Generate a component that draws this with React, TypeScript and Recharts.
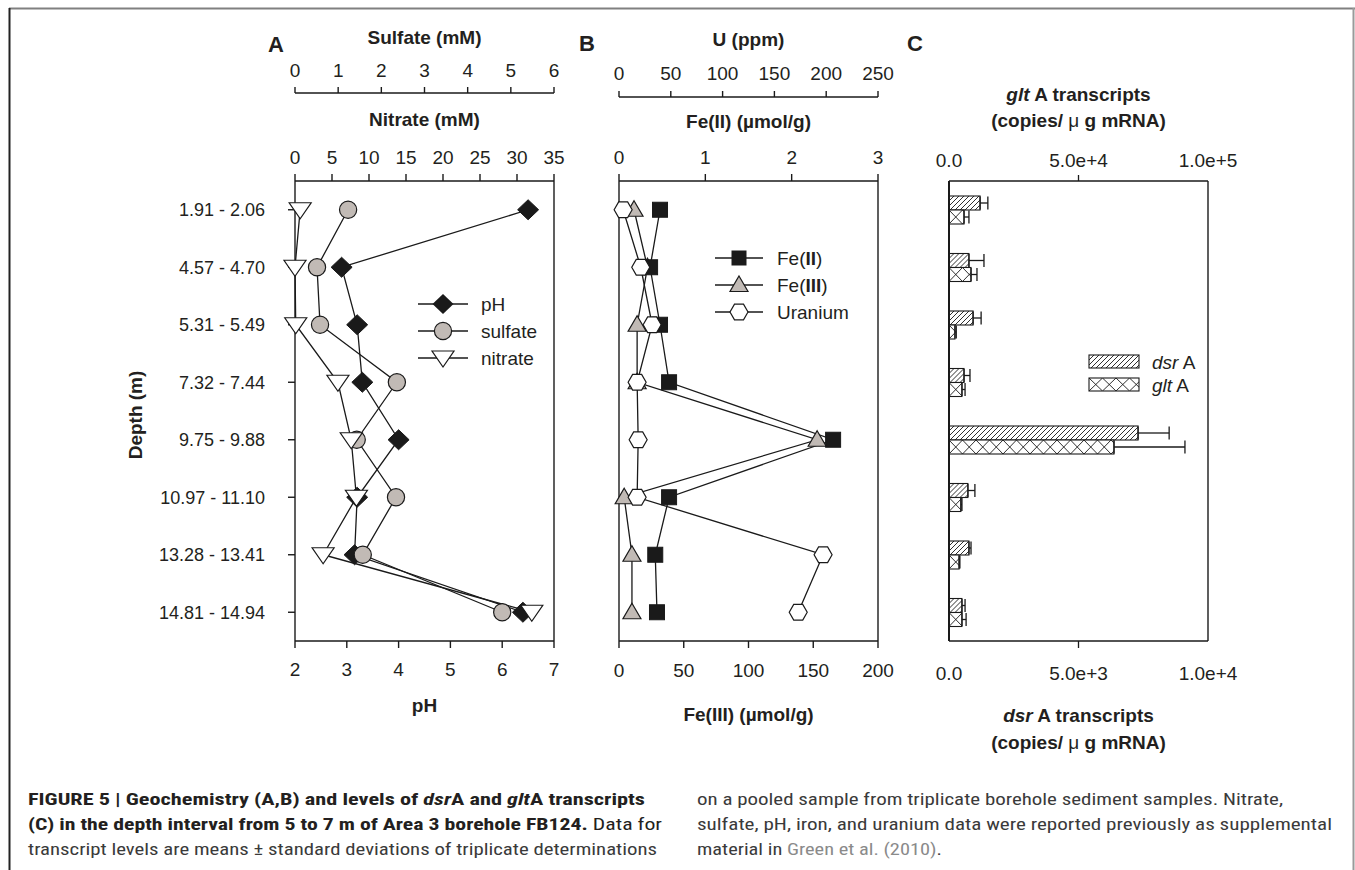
import React from 'react';
import { LineChart, Line, XAxis, YAxis, BarChart, Bar, ErrorBar } from 'recharts';

// ---------- data ----------
const depthLabels = ['1.91 - 2.06', '4.57 - 4.70', '5.31 - 5.49', '7.32 - 7.44', '9.75 - 9.88', '10.97 - 11.10', '13.28 - 13.41', '14.81 - 14.94'];

const phValues = [6.5, 2.9, 3.2, 3.3, 4.0, 3.2, 3.15, 6.4];
const sulfateMM = [1.23, 0.51, 0.58, 2.36, 1.43, 2.34, 1.57, 4.8];
const nitrateMM = [0.7, 0, 0.1, 5.8, 7.6, 8.3, 3.8, 32];

const fe2Values = [0.475, 0.36, 0.475, 0.58, 2.48, 0.58, 0.42, 0.44];
const fe3Values = [11.6, 22, 14, 14, 153, 4, 10, 10];
const uraniumPpm = [4, 21, 32, 17.5, 18.5, 17.5, 197, 173];

const dsrAMean = [1200, 770, 930, 580, 7300, 730, 770, 500];
const dsrASd = [300, 580, 310, 230, 1200, 270, 80, 120];
const gltAMean = [5800, 8500, 2300, 5000, 63700, 4600, 3900, 5000];
const gltASd = [1900, 2300, 500, 1200, 27400, 400, 300, 1600];

const sulfateTicks = [0, 1, 2, 3, 4, 5, 6];
const nitrateTicks = [0, 5, 10, 15, 20, 25, 30, 35];
const phTicks = [2, 3, 4, 5, 6, 7];
const uTicks = [0, 50, 100, 150, 200, 250];
const fe2Ticks = [0, 1, 2, 3];
const fe3Ticks = [0, 50, 100, 150, 200];
const gltTicks = [0, 50000, 100000];
const dsrTicks = [0, 5000, 10000];

const dataA = depthLabels.map((depth, i) => ({ depth, ph: phValues[i], sulfate: sulfateMM[i], nitrate: nitrateMM[i] }));
const dataB = depthLabels.map((depth, i) => ({ depth, fe2: fe2Values[i], fe3: fe3Values[i], u: uraniumPpm[i] }));
const dataC = depthLabels.map((depth, i) => ({
  depth,
  dsr: dsrAMean[i],
  dsrErr: [0, dsrASd[i]],
  glt: gltAMean[i],
  gltErr: [0, gltASd[i]],
}));

// ---------- styles ----------
const FONT = '"Liberation Sans", Arial, Helvetica, sans-serif';
const NARROW = '"Liberation Sans Narrow", "Roboto Condensed", "DejaVu Sans Condensed", "Liberation Sans", sans-serif';
const INK = '#231f20';
const LINE = '#1a1a1a';
const GRAY_FILL = '#c1bab5';
const AXIS = { stroke: LINE, strokeWidth: 1.4 };
const TICK = { fontSize: 19, fill: INK, fontFamily: FONT };
const CAT_PAD = { top: 28.75, bottom: 28.75 };

// ---------- markers ----------
const diamondDot = (p: any) => {
  const { cx, cy, index } = p;
  if (cx == null || cy == null) return <g key={`dia-${index}`} />;
  return <path key={`dia-${index}`} d={`M${cx},${cy - 10}L${cx + 10.5},${cy}L${cx},${cy + 10}L${cx - 10.5},${cy}Z`} fill={LINE} stroke={LINE} strokeWidth={1} />;
};
const circleDot = (p: any) => {
  const { cx, cy, index } = p;
  if (cx == null || cy == null) return <g key={`cir-${index}`} />;
  return <circle key={`cir-${index}`} cx={cx} cy={cy} r={8.6} fill={GRAY_FILL} stroke={LINE} strokeWidth={1.2} />;
};
const downTriPath = (cx: number, cy: number) => `M${cx - 11},${cy - 7}L${cx + 11},${cy - 7}L${cx},${cy + 9}Z`;
const downTriDot = (p: any) => {
  const { cx, cy, index } = p;
  if (cx == null || cy == null) return <g key={`tri-${index}`} />;
  return <path key={`tri-${index}`} d={downTriPath(cx, cy)} fill="#fff" stroke={LINE} strokeWidth={1.2} />;
};
const squareDot = (p: any) => {
  const { cx, cy, index } = p;
  if (cx == null || cy == null) return <g key={`sq-${index}`} />;
  return <rect key={`sq-${index}`} x={cx - 7.5} y={cy - 7.5} width={15} height={15} fill={LINE} stroke={LINE} strokeWidth={1} />;
};
const upTriPath = (cx: number, cy: number) => `M${cx},${cy - 9}L${cx + 9},${cy + 6.5}L${cx - 9},${cy + 6.5}Z`;
const upTriDot = (p: any) => {
  const { cx, cy, index } = p;
  if (cx == null || cy == null) return <g key={`ut-${index}`} />;
  return <path key={`ut-${index}`} d={upTriPath(cx, cy)} fill={GRAY_FILL} stroke={LINE} strokeWidth={1.2} />;
};
const hexPath = (cx: number, cy: number) => {
  const r = 9;
  const pts: string[] = [];
  for (let k = 0; k < 6; k++) {
    const a = (Math.PI / 3) * k;
    pts.push(`${cx + r * Math.cos(a)},${cy + r * Math.sin(a)}`);
  }
  return `M${pts.join('L')}Z`;
};
const hexDot = (p: any) => {
  const { cx, cy, index } = p;
  if (cx == null || cy == null) return <g key={`hex-${index}`} />;
  return <path key={`hex-${index}`} d={hexPath(cx, cy)} fill="#fff" stroke={LINE} strokeWidth={1.2} />;
};

// ---------- labels ----------
const titleLabel = (render: (cx: number, top: number) => React.ReactNode) => (props: any) => {
  const vb = props && props.viewBox;
  if (!vb) return null;
  return <g>{render(vb.x + vb.width / 2, vb.y)}</g>;
};
const boldText = (cx: number, y: number, content: React.ReactNode) => (
  <text x={cx} y={y} textAnchor="middle" dominantBaseline="central" fontSize={19} fontWeight="bold" fill={INK} fontFamily={FONT}>
    {content}
  </text>
);
const depthLabel = (props: any) => {
  const vb = props && props.viewBox;
  if (!vb) return null;
  const cx = vb.x + 15;
  const cy = vb.y + vb.height / 2 + 4;
  return (
    <text x={cx} y={cy} transform={`rotate(-90 ${cx} ${cy})`} textAnchor="middle" dominantBaseline="central" fontSize={19} fontWeight="bold" fill={INK} fontFamily={FONT}>
      Depth (m)
    </text>
  );
};
const copiesLine = (cx: number, y: number) => (
  <text x={cx} y={y} textAnchor="middle" dominantBaseline="central" fontSize={19} fontWeight="bold" fill={INK} fontFamily={FONT}>
    (copies/ <tspan fontWeight="normal">μ</tspan> g mRNA)
  </text>
);

// ---------- hatched bars ----------
const hatchPath = (kind: string, x: number, y: number, width: number, height: number) => {
  let d = '';
  if (kind === 'diag') {
    const step = 5;
    for (let t = -height; t < width + step; t += step) d += `M${x + t},${y + height}L${x + t + height},${y}`;
  } else {
    const w = 13.5;
    for (let t = 0; t < width + w; t += w) d += `M${x + t},${y}L${x + t + w},${y + height}M${x + t + w},${y}L${x + t},${y + height}`;
  }
  return d;
};
const hatchBar = (kind: string) => (props: any) => {
  const { x, y, width, height, index } = props;
  if (!width || width <= 0) return <g />;
  const id = `clip-${kind}-${index}`;
  return (
    <g>
      <defs>
        <clipPath id={id}>
          <rect x={x} y={y} width={width} height={height} />
        </clipPath>
      </defs>
      <rect x={x} y={y} width={width} height={height} fill="#fff" />
      <path d={hatchPath(kind, x, y, width, height)} stroke={LINE} strokeWidth={0.9} fill="none" clipPath={`url(#${id})`} />
      <rect x={x} y={y} width={width} height={height} fill="none" stroke={LINE} strokeWidth={1.1} />
    </g>
  );
};

const fmtSci = (v: number) => (v === 0 ? '0.0' : v.toExponential(1));
// panel C: chart-local axis line positions (plot top 161, plot bottom 621)
const CTickTop = (props: any) => {
  const { x, payload } = props;
  const v = payload.value;
  return (
    <g>
      {v === gltTicks[1] && <line x1={x} x2={x} y1={161} y2={155} stroke={LINE} strokeWidth={1.3} />}
      <text x={x} y={147} textAnchor="middle" fontSize={19} fill={INK} fontFamily={FONT}>{fmtSci(v)}</text>
    </g>
  );
};
const CTickBottom = (props: any) => {
  const { x, payload } = props;
  const v = payload.value;
  return (
    <g>
      {v === dsrTicks[1] && <line x1={x} x2={x} y1={621} y2={628} stroke={LINE} strokeWidth={1.3} />}
      <text x={x} y={660} textAnchor="middle" fontSize={19} fill={INK} fontFamily={FONT}>{fmtSci(v)}</text>
    </g>
  );
};

// ---------- panels ----------
function PanelA() {
  return (
    <div style={{ position: 'absolute', left: 120, top: 20 }}>
      <LineChart layout="vertical" width={460} height={710} data={dataA} margin={{ top: 0, right: 0, bottom: 0, left: 0 }}>
        <XAxis xAxisId="nitrate" type="number" orientation="top" domain={[0, 35]} ticks={nitrateTicks} interval={0} height={88} tickSize={7} tickMargin={10} axisLine={AXIS} tickLine={AXIS} tick={TICK}
          label={titleLabel((cx, top) => boldText(cx, top + 26, 'Nitrate (mM)'))} />
        <XAxis xAxisId="sulfate" type="number" orientation="top" domain={[0, 6]} ticks={sulfateTicks} interval={0} height={73} tickSize={6} tickMargin={10} axisLine={AXIS} tickLine={AXIS} tick={TICK}
          label={titleLabel((cx, top) => boldText(cx, top + 17, 'Sulfate (mM)'))} />
        <XAxis xAxisId="ph" type="number" orientation="bottom" domain={[2, 7]} ticks={phTicks} interval={0} height={89} tickSize={7} tickMargin={15} axisLine={AXIS} tickLine={AXIS} tick={TICK}
          label={titleLabel((cx, top) => boldText(cx, top + 64, 'pH'))} />
        <YAxis yAxisId="depth" type="category" dataKey="depth" width={175} interval={0} padding={CAT_PAD} tickSize={7} tickMargin={23} axisLine={AXIS} tickLine={AXIS} tick={{ ...TICK, fontSize: 18 }} label={depthLabel} />
        <YAxis yAxisId="frame" orientation="right" type="category" dataKey="depth" width={26} padding={CAT_PAD} tick={false} tickLine={false} axisLine={AXIS} />
        <Line xAxisId="ph" yAxisId="depth" dataKey="ph" stroke={LINE} strokeWidth={1.3} dot={diamondDot} activeDot={false} isAnimationActive={false} />
        <Line xAxisId="sulfate" yAxisId="depth" dataKey="sulfate" stroke={LINE} strokeWidth={1.3} dot={circleDot} activeDot={false} isAnimationActive={false} />
        <Line xAxisId="nitrate" yAxisId="depth" dataKey="nitrate" stroke={LINE} strokeWidth={1.3} dot={downTriDot} activeDot={false} isAnimationActive={false} />
      </LineChart>
    </div>
  );
}

function PanelB() {
  return (
    <div style={{ position: 'absolute', left: 580, top: 20 }}>
      <LineChart layout="vertical" width={320} height={710} data={dataB} margin={{ top: 0, right: 0, bottom: 0, left: 0 }}>
        <XAxis xAxisId="fe2" type="number" orientation="top" domain={[0, 3]} ticks={fe2Ticks} interval={0} height={84} tickSize={7} tickMargin={10} axisLine={AXIS} tickLine={AXIS} tick={TICK}
          label={titleLabel((cx, top) => boldText(cx, top + 24, 'Fe(II) (µmol/g)'))} />
        <XAxis xAxisId="u" type="number" orientation="top" domain={[0, 250]} ticks={uTicks} interval={0} height={77} tickSize={6} tickMargin={11} axisLine={AXIS} tickLine={AXIS} tick={TICK}
          label={titleLabel((cx, top) => boldText(cx, top + 19, 'U (ppm)'))} />
        <XAxis xAxisId="fe3" type="number" orientation="bottom" domain={[0, 200]} ticks={fe3Ticks} interval={0} height={89} tickSize={7} tickMargin={16} axisLine={AXIS} tickLine={AXIS} tick={TICK}
          label={titleLabel((cx, top) => boldText(cx, top + 73, 'Fe(III) (µmol/g)'))} />
        <YAxis yAxisId="depth" type="category" dataKey="depth" width={39} interval={0} padding={CAT_PAD} tickSize={6} axisLine={AXIS} tickLine={AXIS} tick={false} />
        <YAxis yAxisId="frame" orientation="right" type="category" dataKey="depth" width={22} padding={CAT_PAD} tick={false} tickLine={false} axisLine={AXIS} />
        <Line xAxisId="fe3" yAxisId="depth" dataKey="fe3" stroke={LINE} strokeWidth={1.3} dot={upTriDot} activeDot={false} isAnimationActive={false} />
        <Line xAxisId="fe2" yAxisId="depth" dataKey="fe2" stroke={LINE} strokeWidth={1.3} dot={squareDot} activeDot={false} isAnimationActive={false} />
        <Line xAxisId="u" yAxisId="depth" dataKey="u" stroke={LINE} strokeWidth={1.3} dot={hexDot} activeDot={false} isAnimationActive={false} />
      </LineChart>
    </div>
  );
}

function PanelC() {
  return (
    <div style={{ position: 'absolute', left: 900, top: 20 }}>
      <BarChart layout="vertical" width={360} height={740} data={dataC} margin={{ top: 0, right: 0, bottom: 0, left: 0 }} barSize={14} barGap={0}>
        <XAxis xAxisId="glt" type="number" orientation="top" domain={[0, 100000]} ticks={gltTicks} interval={0} height={161} tickLine={false} axisLine={AXIS} tick={<CTickTop />}
          label={titleLabel((cx, top) => (
            <>
              <text x={cx} y={top + 74} textAnchor="middle" dominantBaseline="central" fontSize={19} fontWeight="bold" fill={INK} fontFamily={FONT}>
                <tspan fontStyle="italic">glt</tspan> A transcripts
              </text>
              {copiesLine(cx, top + 100)}
            </>
          ))} />
        <XAxis xAxisId="dsr" type="number" orientation="bottom" domain={[0, 10000]} ticks={dsrTicks} interval={0} height={119} tickLine={false} axisLine={AXIS} tick={<CTickBottom />}
          label={titleLabel((cx, top) => (
            <>
              <text x={cx} y={top + 74} textAnchor="middle" dominantBaseline="central" fontSize={19} fontWeight="bold" fill={INK} fontFamily={FONT}>
                <tspan fontStyle="italic">dsr</tspan> A transcripts
              </text>
              {copiesLine(cx, top + 101)}
            </>
          ))} />
        <YAxis yAxisId="depth" type="category" dataKey="depth" width={49} interval={0} tickSize={7} axisLine={{ stroke: LINE, strokeWidth: 2 }} tickLine={AXIS} tick={false} />
        <YAxis yAxisId="frame" orientation="right" type="category" dataKey="depth" width={52} tick={false} tickLine={false} axisLine={AXIS} />
        <Bar xAxisId="dsr" yAxisId="depth" dataKey="dsr" shape={hatchBar('diag')} isAnimationActive={false}>
          <ErrorBar dataKey="dsrErr" direction="x" width={6.5} stroke={LINE} strokeWidth={1.3} />
        </Bar>
        <Bar xAxisId="glt" yAxisId="depth" dataKey="glt" shape={hatchBar('cross')} isAnimationActive={false}>
          <ErrorBar dataKey="gltErr" direction="x" width={6.5} stroke={LINE} strokeWidth={1.3} />
        </Bar>
      </BarChart>
    </div>
  );
}

// ---------- overlay: frame, letters, legends, caption ----------
function Overlay() {
  const legText = { fontSize: 19, fill: INK, fontFamily: FONT, dominantBaseline: 'central' as const };
  const aRows = [304, 331, 358];
  const bRows = [258, 285, 312];
  return (
    <svg width={1355} height={870} style={{ position: 'absolute', left: 0, top: 0, pointerEvents: 'none' }}>
      {/* frame */}
      <line x1={9} x2={1355} y1={8.5} y2={8.5} stroke="#808080" strokeWidth={2} />
      <line x1={9.5} x2={9.5} y1={8} y2={870} stroke="#222" strokeWidth={2} />
      <line x1={1353.5} x2={1353.5} y1={8} y2={870} stroke="#9a9a9a" strokeWidth={2} />

      {/* panel letters */}
      <text x={268} y={52} fontSize={22} fontWeight="bold" fill={INK} fontFamily={FONT}>A</text>
      <text x={579} y={51} fontSize={22} fontWeight="bold" fill={INK} fontFamily={FONT}>B</text>
      <text x={907} y={51} fontSize={22} fontWeight="bold" fill={INK} fontFamily={FONT}>C</text>

      {/* legend A */}
      {aRows.map((y) => <line key={`la-${y}`} x1={418} x2={468} y1={y} y2={y} stroke={LINE} strokeWidth={1.3} />)}
      <path d={`M443,${aRows[0] - 10}L453.5,${aRows[0]}L443,${aRows[0] + 10}L432.5,${aRows[0]}Z`} fill={LINE} />
      <circle cx={443} cy={aRows[1]} r={8.6} fill={GRAY_FILL} stroke={LINE} strokeWidth={1.2} />
      <path d={downTriPath(443, aRows[2])} fill="#fff" stroke={LINE} strokeWidth={1.2} />
      <text x={481} y={aRows[0]} {...legText}>pH</text>
      <text x={481} y={aRows[1]} {...legText}>sulfate</text>
      <text x={481} y={aRows[2]} {...legText}>nitrate</text>

      {/* legend B */}
      {bRows.map((y) => <line key={`lb-${y}`} x1={715} x2={763} y1={y} y2={y} stroke={LINE} strokeWidth={1.3} />)}
      <rect x={731.5} y={bRows[0] - 7.5} width={15} height={15} fill={LINE} />
      <path d={upTriPath(739, bRows[1])} fill={GRAY_FILL} stroke={LINE} strokeWidth={1.2} />
      <path d={hexPath(739, bRows[2])} fill="#fff" stroke={LINE} strokeWidth={1.2} />
      <text x={777} y={bRows[0]} {...legText}>Fe(<tspan fontWeight="bold">II</tspan>)</text>
      <text x={777} y={bRows[1]} {...legText}>Fe(<tspan fontWeight="bold">III</tspan>)</text>
      <text x={777} y={bRows[2]} {...legText}>Uranium</text>

      {/* legend C */}
      <defs>
        <clipPath id="lg-d"><rect x={1089} y={355} width={50} height={13} /></clipPath>
        <clipPath id="lg-c"><rect x={1089} y={378} width={50} height={13} /></clipPath>
      </defs>
      <path d={hatchPath('diag', 1089, 355, 50, 13)} stroke={LINE} strokeWidth={0.9} clipPath="url(#lg-d)" />
      <rect x={1089} y={355} width={50} height={13} fill="none" stroke={LINE} strokeWidth={1.1} />
      <path d={hatchPath('cross', 1089, 378, 50, 13)} stroke={LINE} strokeWidth={0.9} clipPath="url(#lg-c)" />
      <rect x={1089} y={378} width={50} height={13} fill="none" stroke={LINE} strokeWidth={1.1} />
      <text x={1152} y={362} {...legText}><tspan fontStyle="italic">dsr</tspan> A</text>
      <text x={1152} y={385} {...legText}><tspan fontStyle="italic">glt</tspan> A</text>

      {/* caption */}
      <g fontFamily={NARROW} fontSize={17}>
        <text x={28} y={805} textLength={617} lengthAdjust="spacingAndGlyphs" fill={INK} fontWeight="bold">
          FIGURE 5 | Geochemistry (A,B) and levels of <tspan fontStyle="italic">dsr</tspan>A and <tspan fontStyle="italic">glt</tspan>A transcripts
        </text>
        <text x={28} y={830} textLength={634} lengthAdjust="spacingAndGlyphs" fill={INK}>
          <tspan fontWeight="bold">(C) in the depth interval from 5 to 7 m of Area 3 borehole FB124.</tspan> Data for
        </text>
        <text x={28} y={855} textLength={629} lengthAdjust="spacingAndGlyphs" fill="#3a3a3a">
          transcript levels are means ± standard deviations of triplicate determinations
        </text>
        <text x={697} y={805} textLength={586} lengthAdjust="spacingAndGlyphs" fill="#3a3a3a">
          on a pooled sample from triplicate borehole sediment samples. Nitrate,
        </text>
        <text x={697} y={830} textLength={635} lengthAdjust="spacingAndGlyphs" fill="#3a3a3a">
          sulfate, pH, iron, and uranium data were reported previously as supplemental
        </text>
        <text x={697} y={855} textLength={245} lengthAdjust="spacingAndGlyphs" fill="#3a3a3a">
          material in <tspan fill="#8a8a8a">Green et al. (2010)</tspan>.
        </text>
      </g>
    </svg>
  );
}

export default function App() {
  return (
    <div style={{ position: 'absolute', left: 0, top: 0, width: 1355, height: 870, background: '#fff', overflow: 'hidden', fontFamily: FONT }}>
      <PanelA />
      <PanelB />
      <PanelC />
      <Overlay />
    </div>
  );
}
